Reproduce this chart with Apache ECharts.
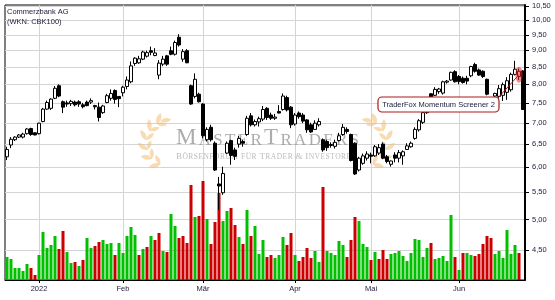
<!DOCTYPE html>
<html><head><meta charset="utf-8">
<script src="https://cdn.jsdelivr.net/npm/echarts@6/dist/echarts.min.js"></script>
<style>html,body{margin:0;padding:0;background:#fff}#c{width:555px;height:300px}</style>
</head><body><div id="c"></div>
<script>
const dates = ['2021-12-20','2021-12-21','2021-12-22','2021-12-23','2021-12-27','2021-12-28','2021-12-29','2021-12-30',
'2022-01-03','2022-01-04','2022-01-05','2022-01-06','2022-01-07','2022-01-10','2022-01-11','2022-01-12','2022-01-13','2022-01-14','2022-01-17','2022-01-18','2022-01-19','2022-01-20','2022-01-21','2022-01-24','2022-01-25','2022-01-26','2022-01-27','2022-01-28','2022-01-31',
'2022-02-01','2022-02-02','2022-02-03','2022-02-04','2022-02-07','2022-02-08','2022-02-09','2022-02-10','2022-02-11','2022-02-14','2022-02-15','2022-02-16','2022-02-17','2022-02-18','2022-02-21','2022-02-22','2022-02-23','2022-02-24','2022-02-25','2022-02-28',
'2022-03-01','2022-03-02','2022-03-03','2022-03-04','2022-03-07','2022-03-08','2022-03-09','2022-03-10','2022-03-11','2022-03-14','2022-03-15','2022-03-16','2022-03-17','2022-03-18','2022-03-21','2022-03-22','2022-03-23','2022-03-24','2022-03-25','2022-03-28','2022-03-29','2022-03-30','2022-03-31',
'2022-04-01','2022-04-04','2022-04-05','2022-04-06','2022-04-07','2022-04-08','2022-04-11','2022-04-12','2022-04-13','2022-04-14','2022-04-19','2022-04-20','2022-04-21','2022-04-22','2022-04-25','2022-04-26','2022-04-27','2022-04-28','2022-04-29',
'2022-05-02','2022-05-03','2022-05-04','2022-05-05','2022-05-06','2022-05-09','2022-05-10','2022-05-11','2022-05-12','2022-05-13','2022-05-16','2022-05-17','2022-05-18','2022-05-19','2022-05-20','2022-05-23','2022-05-24','2022-05-25','2022-05-26','2022-05-27','2022-05-30','2022-05-31',
'2022-06-01','2022-06-02','2022-06-03','2022-06-06','2022-06-07','2022-06-08','2022-06-09','2022-06-10','2022-06-13','2022-06-14','2022-06-15','2022-06-16','2022-06-17','2022-06-20','2022-06-21','2022-06-22','2022-06-23'];

const opens = [6.22,6.48,6.60,6.66,6.66,6.74,6.86,6.76,6.74,7.03,
7.34,7.36,7.62,7.96,7.53,7.50,7.48,7.52,7.53,7.45,
7.52,7.52,7.43,7.39,7.25,7.51,7.62,7.83,7.67,7.77,
7.94,8.07,8.60,8.62,8.73,8.82,8.99,8.84,8.26,8.58,
8.83,8.99,8.88,9.42,8.73,8.99,7.96,7.67,7.73,7.47,
6.60,6.89,6.52,5.66,5.49,6.30,6.58,6.37,6.50,6.56,
6.72,7.17,6.95,7.02,7.09,7.36,7.19,7.11,7.28,7.33,
7.64,7.39,6.97,7.24,7.19,7.07,6.95,6.84,6.95,6.60,
6.56,6.49,6.45,6.58,6.72,6.84,6.72,6.52,5.94,6.08,
6.19,6.26,6.24,6.30,6.50,6.22,6.06,6.26,6.19,6.24,
6.38,6.44,6.63,6.83,7.01,7.25,7.74,7.70,7.80,7.76,
8.06,8.12,8.36,8.22,8.17,8.17,8.24,8.57,8.41,8.37,
8.14,7.60,7.68,7.67,7.70,7.78,7.85,8.28,8.22,8.38];

const highs = [6.44,6.66,6.68,6.73,6.76,6.87,6.88,6.77,7.00,7.37,
7.56,7.62,7.95,8.00,7.56,7.56,7.58,7.56,7.57,7.50,
7.56,7.62,7.45,7.51,7.45,7.74,7.86,7.86,7.67,7.96,
8.22,8.66,8.79,8.83,8.99,8.99,9.12,9.07,8.70,8.83,
8.86,9.12,9.31,9.52,9.04,9.04,7.99,8.31,7.77,7.49,
6.89,6.95,6.56,5.80,6.01,6.56,6.60,6.42,6.69,6.60,
7.17,7.24,7.08,7.15,7.42,7.39,7.25,7.22,7.44,7.75,
7.69,7.42,7.24,7.28,7.24,7.09,7.00,7.06,7.11,6.63,
6.60,6.54,6.60,6.76,6.97,6.89,6.74,6.54,6.22,6.29,
6.34,6.31,6.48,6.50,6.54,6.26,6.14,6.32,6.37,6.36,
6.52,6.56,6.89,7.09,7.28,7.50,7.76,7.92,7.90,8.10,
8.12,8.36,8.40,8.26,8.22,8.24,8.53,8.62,8.45,8.40,
8.16,7.64,7.77,7.98,8.05,8.20,8.33,8.68,8.45,8.40];

const lows = [6.15,6.41,6.57,6.64,6.63,6.72,6.69,6.70,6.72,7.01,
7.32,7.32,7.60,7.65,7.24,7.40,7.42,7.41,7.40,7.36,
7.41,7.47,7.33,7.03,7.22,7.49,7.56,7.48,7.39,7.67,
7.86,8.03,8.53,8.59,8.70,8.78,8.85,8.82,8.14,8.52,
8.53,8.85,8.84,9.12,8.65,8.61,7.45,7.62,7.51,6.63,
6.56,6.56,5.92,5.17,5.45,6.28,6.05,6.15,6.42,6.44,
6.69,6.91,6.91,6.91,7.04,7.07,7.07,7.07,7.23,7.30,
7.28,6.87,6.93,7.10,6.99,6.76,6.76,6.83,6.91,6.33,
6.35,6.42,6.40,6.56,6.69,6.74,6.12,5.84,5.91,6.05,
6.14,6.08,6.22,6.26,6.17,6.08,6.01,6.10,6.10,6.05,
6.37,6.42,6.60,6.79,6.97,7.22,7.38,7.68,7.74,7.72,
8.02,8.10,8.05,8.00,8.02,8.00,8.20,8.33,8.24,8.18,
7.70,7.42,7.62,7.53,7.55,7.58,7.80,8.25,8.12,7.32];

const closes = [6.38,6.61,6.66,6.71,6.73,6.85,6.72,6.71,6.99,7.34,
7.51,7.60,7.89,7.68,7.39,7.47,7.54,7.45,7.47,7.40,
7.43,7.56,7.40,7.13,7.42,7.69,7.75,7.59,7.61,7.92,
8.12,8.53,8.76,8.74,8.95,8.93,8.94,8.92,8.61,8.73,
8.58,8.88,9.25,9.17,8.96,8.62,7.47,8.14,7.53,6.69,
6.84,6.60,5.94,5.62,5.87,6.52,6.25,6.23,6.63,6.52,
7.11,6.95,7.03,7.10,7.33,7.13,7.11,7.14,7.24,7.68,
7.32,6.95,7.19,7.15,7.04,6.83,6.78,6.99,7.03,6.37,
6.42,6.47,6.54,6.69,6.89,6.79,6.14,5.86,6.19,6.24,
6.28,6.23,6.44,6.42,6.19,6.12,6.13,6.19,6.31,6.33,
6.46,6.52,6.84,7.05,7.25,7.44,7.40,7.86,7.87,8.07,
8.09,8.34,8.07,8.08,8.05,8.09,8.51,8.37,8.26,8.22,
7.73,7.50,7.75,7.88,7.99,8.10,8.28,8.43,8.37,7.33];

// volume in million shares
const volumes = [9.2,8.4,4.8,4.8,3.6,6.4,4.8,2.0,10.0,19.2,
12.8,14.0,17.6,12.4,19.6,11.2,6.8,7.2,5.6,8.0,
16.8,12.8,13.6,15.2,16.0,14.4,14.8,10.0,14.8,10.8,
17.6,21.2,18.0,10.0,12.4,13.2,17.6,16.0,18.8,11.6,
11.2,26.4,21.6,16.8,17.6,14.8,38.0,25.2,25.6,39.6,
24.4,14.4,23.2,34.8,23.6,27.6,28.8,22.0,17.2,14.4,
28.0,17.6,21.6,10.4,16.0,9.2,10.0,8.8,10.0,17.2,
14.0,18.8,10.0,7.6,9.2,12.8,8.8,11.6,7.2,37.2,
11.6,10.8,10.0,15.6,14.0,9.2,16.0,25.2,23.6,14.4,
13.2,8.0,11.2,8.4,12.0,8.4,10.4,10.8,11.6,9.6,
7.6,10.8,16.4,16.0,9.2,12.8,14.8,8.4,8.8,9.6,
7.6,26.0,9.2,4.0,10.8,10.8,10.0,9.6,10.4,14.4,
17.6,16.8,10.4,11.6,8.8,20.0,10.4,14.0,10.8,null];

const priceTicks = [4.5,5,5.5,6,6.5,7,7.5,8,8.5,9,9.5,10,10.5];
const monthTickLabels = ['2022','Feb','Mär','Apr','Mai','Jun'];
const titleLines = ['Commerzbank AG','(WKN: CBK100)'];
const annotationText = 'TraderFox Momentum Screener 2';

const FONT = '"Liberation Sans", Arial, sans-serif';
const SERIF = '"Liberation Serif", "DejaVu Serif", serif';
const TXT = '#1b1b3c';
const GREEN = '#00c000', RED = '#cc0000';

const isMonthStart = (i) => i > 0 && dates[i].slice(0,7) !== dates[i-1].slice(0,7);
const candles = dates.map((d,i) => [opens[i], closes[i], lows[i], highs[i]]);

const chart = echarts.init(document.getElementById('c'), null, {renderer:'canvas', width:555, height:300});

const option = {
  animation: false,
  grid: {left:5, right:30, top:5, bottom:20, show:true, borderColor:'#000', borderWidth:1, backgroundColor:'transparent'},
  xAxis: {
    type:'category', data: dates, boundaryGap: true,
    axisLine:{show:true, lineStyle:{color:'#000', width:1}},
    axisTick:{show:true, alignWithLabel:true, interval:(i)=>isMonthStart(i), length:3, lineStyle:{color:'#000'}},
    axisLabel:{interval:(i)=>isMonthStart(i), formatter:(v)=>monthTickLabels[parseInt(v.slice(5,7),10)-1] || '',
      fontSize:7.5, fontFamily:FONT, color:TXT, margin:5},
    splitLine:{show:true, alignWithLabel:true, interval:(i)=>isMonthStart(i), lineStyle:{color:'#d4d4d4', width:1}}
  },
  yAxis: [
    {type:'log', logBase:10, min:4.055, max:10.536, position:'right',
     axisLine:{show:true, onZero:false, lineStyle:{color:'#000', width:2}},
     axisTick:{show:true, customValues: priceTicks, length:4, lineStyle:{color:'#000'}},
     axisLabel:{customValues: priceTicks, formatter:(v)=>Number(v).toFixed(2).replace('.', ','),
       fontSize:7.5, fontFamily:FONT, color:TXT, margin:7},
     splitLine:{show:true, lineStyle:{color:'#d4d4d4', width:1}},
     minorTick:{show:false}, minorSplitLine:{show:false}},
    {type:'value', min:0, max:110, show:false, splitLine:{show:false}}
  ],
  series: [
    {type:'bar', xAxisIndex:0, yAxisIndex:1, data: volumes, barWidth:3, silent:true, z:1,
     itemStyle:{color:(p)=>{const i=p.dataIndex; return (i===0 || closes[i] >= closes[i-1]) ? GREEN : RED;}}},
    {type:'candlestick', xAxisIndex:0, yAxisIndex:0, data: candles, barWidth:3, silent:true, z:3,
     itemStyle:{color:'#ffffff', color0:'#000000', borderColor:'#000000', borderColor0:'#000000', borderWidth:1}}
  ]
};
chart.setOption(option);

// ---- decorations ----
const mctx = document.createElement('canvas').getContext('2d');
function measure(t, size, fam){ mctx.font = size + 'px ' + fam; return mctx.measureText(t).width; }

function spacedText(str, sizeFn, x0, x1, baseline, fam, color, z){
  const chars = str.split('');
  const ws = chars.map((c,i)=>measure(c, sizeFn(i,c), fam));
  const total = ws.reduce((a,b)=>a+b,0);
  const gap = (x1 - x0 - total) / (chars.length - 1);
  let x = x0; const out = [];
  chars.forEach((c,i)=>{
    const fs = sizeFn(i,c);
    out.push({type:'text', x:x, y: baseline - 0.34*fs, z:z, silent:true,
      style:{text:c, fontSize:fs, fontFamily:fam, fill:color, align:'left', verticalAlign:'middle'}});
    x += ws[i] + gap;
  });
  return out;
}

function leaf(cx, cy, ang, L, W){
  const pts = [];
  const n = 8;
  for(let j=0;j<=n;j++){ const s=-1+2*j/n; pts.push([s*L/2,  W/2*(1-s*s)]); }
  for(let j=n-1;j>0;j--){ const s=-1+2*j/n; pts.push([s*L/2, -W/2*(1-s*s)]); }
  const ca=Math.cos(ang), sa=Math.sin(ang);
  return pts.map(([x,y])=>[cx + x*ca - y*sa, cy + x*sa + y*ca]);
}

function wreath(cx, cy, r, mirrorX){
  const els = [];
  const leafStyle = {fill:'rgba(242,190,115,0.55)'};
  const add = (pts)=>{
    if (mirrorX !== null) pts = pts.map(([x,y])=>[2*mirrorX - x, y]);
    els.push({type:'polygon', z:1, silent:true, shape:{points:pts}, style:leafStyle});
  };
  for(let k=0;k<6;k++){
    const phi = (118 + k*25) * Math.PI/180;
    const px = cx + r*Math.cos(phi), py = cy + r*Math.sin(phi);
    const tx = -Math.sin(phi), ty = Math.cos(phi);
    const nx = Math.cos(phi), ny = Math.sin(phi);
    add(leaf(px + nx*3.5 + tx*2, py + ny*3.5 + ty*2, Math.atan2(ty+ny*0.9, tx+nx*0.9), 12, 4.6));
    add(leaf(px - nx*3 + tx*2, py - ny*3 + ty*2, Math.atan2(ty-ny*0.7, tx-nx*0.7), 10.5, 4));
  }
  const phiT = 262*Math.PI/180;
  add(leaf(cx + r*Math.cos(phiT), cy + r*Math.sin(phiT), Math.atan2(Math.cos(phiT), -Math.sin(phiT)), 11, 4.4));
  return els;
}

const circ = chart.convertToPixel({xAxisIndex:0, yAxisIndex:0}, [128, 8.27]);

const graphics = [];
// title
graphics.push({type:'text', x:7, y:12.3, z:100, silent:true, style:{text:titleLines[0], fontSize:7.5, fontFamily:FONT, fill:TXT, align:'left', verticalAlign:'middle'}});
graphics.push({type:'text', x:7, y:22.2, z:100, silent:true, style:{text:titleLines[1], fontSize:7.5, fontFamily:FONT, fill:TXT, align:'left', verticalAlign:'middle'}});
// watermark
graphics.push(...wreath(169, 143, 23, null));
graphics.push(...wreath(169, 143, 23, 266.5));
graphics.push(...spacedText('MASTERTRADERS', (i,c)=> (i===0||i===6) ? 23 : 17, 176, 359, 146, SERIF, 'rgba(140,140,140,0.72)', 1));
graphics.push(...spacedText('BÖRSENFORUM FÜR TRADER & INVESTOREN', (i,c)=> ([0,11,16,23,25].indexOf(i)>=0) ? 9 : 7.5, 176, 357, 160, SERIF, 'rgba(150,150,150,0.65)', 1));
// annotation
graphics.push({type:'line', z:99, silent:true, shape:{x1:497, y1:99, x2:circ[0], y2:circ[1]}, style:{stroke:'#a81c1c', lineWidth:1}});
graphics.push({type:'ellipse', z:99, silent:true, shape:{cx:circ[0], cy:circ[1], rx:3.6, ry:8}, style:{fill:'rgba(236,40,40,0.55)'}});
graphics.push({type:'rect', z:100, silent:true, shape:{x:378, y:97, width:121, height:15, r:4}, style:{fill:'#ffffff', stroke:'#a81c1c', lineWidth:1.2}});
graphics.push({type:'text', x:438.5, y:104.7, z:101, silent:true, style:{text:annotationText, fontSize:7.5, fontFamily:FONT, fill:TXT, align:'center', verticalAlign:'middle'}});

chart.setOption({graphic:{elements: graphics}});
</script>
</body></html>
